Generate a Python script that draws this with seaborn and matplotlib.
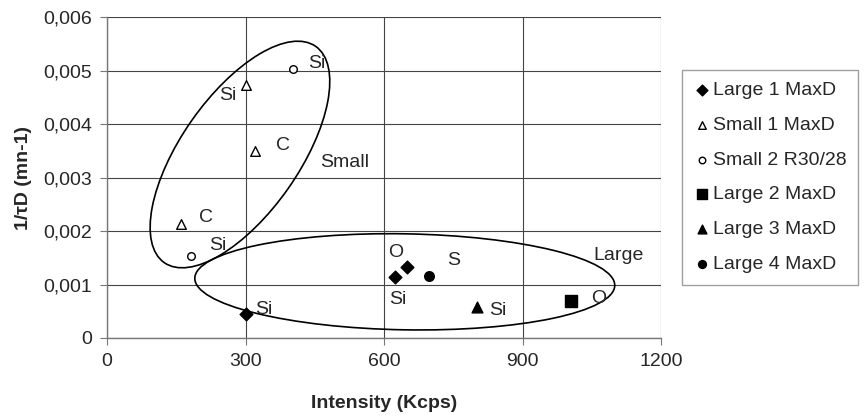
import seaborn as sns
import matplotlib.pyplot as plt
from matplotlib.patches import Ellipse
from matplotlib.transforms import ScaledTranslation

# series data (intensity in Kcps, 1/tauD in mn-1)
large1_x = [300, 624, 650]
large1_y = [0.00045, 0.00114, 0.00133]
small1_x = [301, 321, 160]
small1_y = [0.00473, 0.0035, 0.00213]
small2_x = [403, 182]
small2_y = [0.00503, 0.00153]
large2_x = [1005]
large2_y = [0.00069]
large3_x = [801]
large3_y = [0.00058]
large4_x = [697]
large4_y = [0.00116]

# element labels next to points
note_text = ["Si", "Si", "C", "C", "Si", "Si", "O", "S", "Si", "Si", "O"]
note_x = [455, 262, 382, 215, 241, 340, 625, 750, 631, 846, 1066]
note_y = [0.00513, 0.00453, 0.0036, 0.00225, 0.00173, 0.00053, 0.0016, 0.00144, 0.00072, 0.00052, 0.00073]

sns.set_style("white")
plt.rcParams["font.family"] = ["Liberation Sans", "DejaVu Sans"]
FS = 14

fig = plt.figure(figsize=(8.65, 4.2), dpi=100)
ax = fig.add_axes([107 / 865, 1 - 338 / 420, 554 / 865, 321 / 420])

# name, x, y, marker, face, size in plot, size in legend
series = [
    ("Large 1 MaxD", large1_x, large1_y, "D", "black", 42, 30),
    ("Small 1 MaxD", small1_x, small1_y, "^", "white", 48, 30),
    ("Small 2 R30/28", small2_x, small2_y, "o", "white", 30, 22),
    ("Large 2 MaxD", large2_x, large2_y, "s", "black", 80, 55),
    ("Large 3 MaxD", large3_x, large3_y, "^", "black", 60, 40),
    ("Large 4 MaxD", large4_x, large4_y, "o", "black", 48, 32),
]
for name, xs, ys, mk, fc, sz, _ in series:
    sns.scatterplot(x=xs, y=ys, marker=mk, s=sz, facecolor=fc, edgecolor="black",
                    linewidth=1.0, label=name, ax=ax, zorder=3)

for t, x, y in zip(note_text, note_x, note_y):
    ax.text(x, y, t, fontsize=FS, ha="center", va="center", zorder=4)
ax.text(1108, 0.00154, "Large", fontsize=FS, ha="center", va="center")
ax.text(515, 0.00328, "Small", fontsize=FS, ha="center", va="center")

# group ellipses, sized in inches around a data-space centre
def group_ellipse(cx, cy, w, h, ang):
    tr = fig.dpi_scale_trans + ScaledTranslation(cx, cy, ax.transData)
    ax.add_patch(Ellipse((0, 0), w, h, angle=ang, fill=False, edgecolor="black",
                         linewidth=1.2, transform=tr, zorder=2))

group_ellipse(288, 0.00343, 2.64, 1.18, 55)
group_ellipse(645, 0.00105, 4.20, 0.96, -1)

ax.set_xlim(0, 1200)
ax.set_ylim(0, 0.006)
ax.set_xticks([0, 300, 600, 900, 1200])
ax.set_yticks([0, 0.001, 0.002, 0.003, 0.004, 0.005, 0.006])
ax.set_yticklabels(["0", "0,001", "0,002", "0,003", "0,004", "0,005", "0,006"])
ax.grid(True, color="#444444", linewidth=0.8)
ax.set_axisbelow(True)
for side in ["top", "right"]:
    ax.spines[side].set_visible(False)
for side in ["left", "bottom"]:
    ax.spines[side].set_color("#777777")
    ax.spines[side].set_linewidth(1.0)
ax.tick_params(axis="both", direction="out", length=5, width=0.8, color="#777777",
               labelsize=FS, left=True, bottom=True, pad=6)

ax.set_xlabel("Intensity (Kcps)", fontsize=FS, fontweight="bold", labelpad=18)
ax.set_ylabel("1/τD (mn-1)", fontsize=FS, fontweight="bold", labelpad=8)

handles, labels = ax.get_legend_handles_labels()
ax.legend_.remove()
leg = fig.legend(handles, labels, loc="upper left", bbox_to_anchor=(682 / 865, 1 - 70 / 420),
                 fontsize=FS, frameon=True, fancybox=False, edgecolor="#888888",
                 handletextpad=0.1, handlelength=0.9, labelspacing=0.88, borderpad=0.6,
                 borderaxespad=0)
leg.get_frame().set_linewidth(1.0)
for h, s in zip(leg.legend_handles, [row[6] for row in series]):
    h.set_sizes([s])

fig.savefig("out.png", dpi=100)
